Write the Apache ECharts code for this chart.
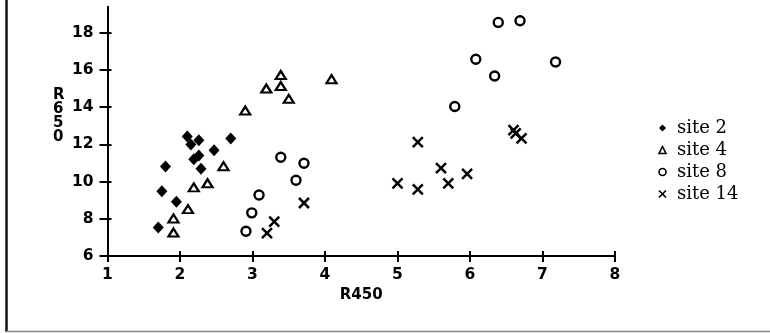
<!DOCTYPE html>
<html>
<head>
<meta charset="utf-8">
<script src="https://cdn.jsdelivr.net/npm/echarts@6/dist/echarts.min.js"></script>
<style>html,body{margin:0;padding:0;background:#fff}#c{width:770px;height:333px}</style>
</head>
<body>
<div id="c"></div>
<script>
const seriesNames = ['site 2', 'site 4', 'site 8', 'site 14'];
const site2X = [1.70, 1.75, 1.80, 1.95, 2.10, 2.15, 2.26, 2.19, 2.26, 2.29, 2.47, 2.70];
const site2Y = [7.53, 9.48, 10.81, 8.92, 12.43, 12.00, 12.22, 11.20, 11.40, 10.69, 11.69, 12.32];
const site4X = [1.91, 1.91, 2.11, 2.19, 2.38, 2.60, 2.90, 3.19, 3.39, 3.39, 3.50, 4.09];
const site4Y = [8.02, 7.26, 8.52, 9.69, 9.91, 10.83, 13.82, 15.01, 15.73, 15.14, 14.45, 15.51];
const site8X = [2.91, 2.99, 3.09, 3.39, 3.60, 3.71, 5.79, 6.08, 6.34, 6.39, 6.69, 7.18];
const site8Y = [7.33, 8.32, 9.28, 11.31, 10.07, 10.99, 14.04, 16.58, 15.68, 18.56, 18.65, 16.43];
const site14X = [3.20, 3.30, 3.71, 5.00, 5.28, 5.28, 5.60, 5.70, 5.96, 6.60, 6.63, 6.71];
const site14Y = [7.23, 7.85, 8.85, 9.91, 12.12, 9.58, 10.72, 9.91, 10.42, 12.77, 12.60, 12.33];
const xTicks = [1, 2, 3, 4, 5, 6, 7, 8];
const yTicks = [6, 8, 10, 12, 14, 16, 18];
const xName = 'R450';
const yName = 'R650';

const zip = (xs, ys) => xs.map((x, i) => [x, ys[i]]);
const tickFont = { fontFamily: 'DejaVu Sans', fontWeight: 'bold', fontSize: 15.5, color: '#000' };
const lineStyle = { color: '#000', width: 2 };

const chart = echarts.init(document.getElementById('c'), null, { renderer: 'canvas' });
const crossPath = 'path://M0,0L10,10M10,0L0,10';

chart.setOption({
  animation: false,
  backgroundColor: '#fff',
  grid: { left: 107.5, right: 155, top: 6.8, bottom: 77, containLabel: false },
  xAxis: [
    {
      type: 'value', min: 1, max: 8, interval: 1,
      name: xName, nameLocation: 'middle', nameGap: 25,
      nameTextStyle: { fontFamily: 'DejaVu Sans', fontWeight: 'bold', fontSize: 15, color: '#000' },
      axisLine: { show: true, onZero: false, lineStyle: lineStyle },
      axisTick: { show: true, inside: false, length: 6, lineStyle: lineStyle, customValues: xTicks },
      axisLabel: Object.assign({ margin: 11, customValues: xTicks }, tickFont),
      splitLine: { show: false }
    },
    {
      type: 'value', min: 1, max: 8, interval: 1, position: 'bottom',
      axisLine: { show: false },
      axisTick: { show: true, inside: true, length: 5, lineStyle: lineStyle, customValues: xTicks },
      axisLabel: { show: false },
      splitLine: { show: false }
    }
  ],
  yAxis: [
    {
      type: 'value', min: 6, max: 19.4, interval: 2,
      axisLine: { show: true, onZero: false, lineStyle: lineStyle },
      axisTick: { show: true, inside: false, length: 8, lineStyle: lineStyle, customValues: yTicks },
      axisLabel: Object.assign({ margin: 14, customValues: yTicks }, tickFont),
      splitLine: { show: false }
    },
    {
      type: 'value', min: 6, max: 19.4, interval: 2, position: 'left',
      axisLine: { show: false },
      axisTick: { show: true, inside: true, length: 4, lineStyle: lineStyle, customValues: yTicks },
      axisLabel: { show: false },
      splitLine: { show: false }
    }
  ],
  legend: {
    orient: 'vertical', left: 651.5, top: 114, itemGap: 4,
    itemWidth: 7, itemHeight: 7,
    itemStyle: { borderWidth: 1.6 },
    textStyle: { fontFamily: 'DejaVu Serif', fontSize: 18, lineHeight: 18, color: '#000', padding: [0, 0, 0, 6] },
    data: seriesNames
  },
  series: [
    {
      name: seriesNames[0], type: 'scatter', data: zip(site2X, site2Y),
      symbol: 'diamond', symbolSize: [11, 12],
      itemStyle: { color: '#000', opacity: 1 }
    },
    {
      name: seriesNames[1], type: 'scatter', data: zip(site4X, site4Y),
      symbol: 'triangle', symbolSize: [10, 8],
      itemStyle: { color: '#fff', borderColor: '#000', borderWidth: 2.2, opacity: 1 }
    },
    {
      name: seriesNames[2], type: 'scatter', data: zip(site8X, site8Y),
      symbol: 'circle', symbolSize: 9,
      itemStyle: { color: '#fff', borderColor: '#000', borderWidth: 2.4, opacity: 1 }
    },
    {
      name: seriesNames[3], type: 'scatter', data: zip(site14X, site14Y),
      symbol: crossPath, symbolSize: 10,
      itemStyle: { color: 'none', borderColor: '#000', borderWidth: 2.5, opacity: 1 }
    }
  ],
  graphic: [
    { type: 'line', shape: { x1: 6.5, y1: 0, x2: 6.5, y2: 332 }, style: { stroke: '#111', lineWidth: 2.5 }, silent: true },
    { type: 'line', shape: { x1: 6, y1: 331.5, x2: 770, y2: 331.5 }, style: { stroke: '#888', lineWidth: 1.5 }, silent: true },
    {
      type: 'text', left: 53, top: 88, silent: true,
      style: { text: yName.split('').join('\n'), fontFamily: 'DejaVu Sans', fontWeight: 'bold', fontSize: 15, lineHeight: 14, fill: '#000', align: 'center' }
    }
  ]
});
</script>
</body>
</html>
